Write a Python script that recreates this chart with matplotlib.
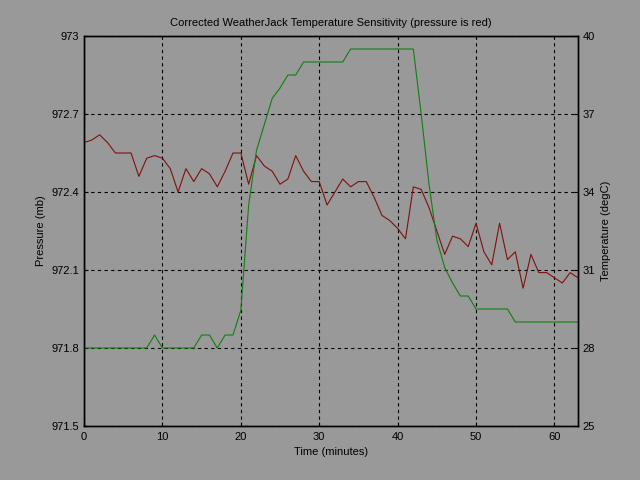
import matplotlib
matplotlib.use('Agg')
import matplotlib.pyplot as plt
import numpy as np

# readings, one per minute
minutes = list(range(0, 64))
pressure = [972.59, 972.60, 972.62, 972.59, 972.55, 972.55, 972.55, 972.46, 972.53, 972.54,
            972.53, 972.49, 972.40, 972.49, 972.44, 972.49, 972.47, 972.42, 972.48, 972.55,
            972.55, 972.43, 972.54, 972.50, 972.48, 972.43, 972.45, 972.54, 972.48, 972.44,
            972.44, 972.35, 972.40, 972.45, 972.42, 972.44, 972.44, 972.38, 972.31, 972.29,
            972.26, 972.22, 972.42, 972.41, 972.34, 972.25, 972.16, 972.23, 972.22, 972.19,
            972.28, 972.17, 972.12, 972.28, 972.14, 972.17, 972.03, 972.16, 972.09, 972.09,
            972.07, 972.05, 972.09, 972.07]
temperature = [28.0, 28.0, 28.0, 28.0, 28.0, 28.0, 28.0, 28.0, 28.0, 28.5,
               28.0, 28.0, 28.0, 28.0, 28.0, 28.5, 28.5, 28.0, 28.5, 28.5,
               29.45, 33.5, 35.6, 36.6, 37.6, 38.0, 38.5, 38.5, 39.0, 39.0,
               39.0, 39.0, 39.0, 39.0, 39.5, 39.5, 39.5, 39.5, 39.5, 39.5,
               39.5, 39.5, 39.5, 37.0, 34.3, 32.15, 31.1, 30.5, 30.0, 30.0,
               29.5, 29.5, 29.5, 29.5, 29.5, 29.0, 29.0, 29.0, 29.0, 29.0,
               29.0, 29.0, 29.0, 29.0]

p_ticks = [971.5, 971.8, 972.1, 972.4, 972.7, 973.0]
p_labels = ['971.5', '971.8', '972.1', '972.4', '972.7', '973']
t_ticks = [25, 28, 31, 34, 37, 40]
x_ticks = [0, 10, 20, 30, 40, 50, 60]

plt.rcParams['font.family'] = ['Liberation Sans', 'DejaVu Sans']
plt.rcParams['font.size'] = 8
bg = '#999999'

fig = plt.figure(figsize=(6.4, 4.8), dpi=100, facecolor=bg)
ax = fig.add_axes([84/640, 54/480, 494/640, 390/480], facecolor=bg)
ax.plot(minutes, pressure, color='#801010', lw=0.8)
ax.set_xlim(0, 63)
ax.set_ylim(971.5, 973.0)
ax.set_xticks(x_ticks)
ax.set_yticks(p_ticks)
ax.set_yticklabels(p_labels)
ax.grid(True, color='black', linestyle=(0, (3, 3)), linewidth=0.8)
ax.tick_params(direction='in', length=3, colors='black')
ax.tick_params(axis='x', pad=4)
ax.set_xlabel('Time (minutes)', labelpad=4)
ax.set_ylabel('Pressure (mb)')
ax.set_title('Corrected WeatherJack Temperature Sensitivity (pressure is red)', fontsize=8, pad=7)

ax2 = ax.twinx()
ax2.plot(minutes, temperature, color='#108010', lw=0.8)
ax2.set_ylim(25, 40)
ax2.set_yticks(t_ticks)
ax2.tick_params(direction='in', length=3, colors='black')
ax2.set_ylabel('Temperature (degC)')

for a in (ax, ax2):
    for s in a.spines.values():
        s.set_color('black')
        s.set_linewidth(1)

fig.savefig('out.png', dpi=100, facecolor=bg)
